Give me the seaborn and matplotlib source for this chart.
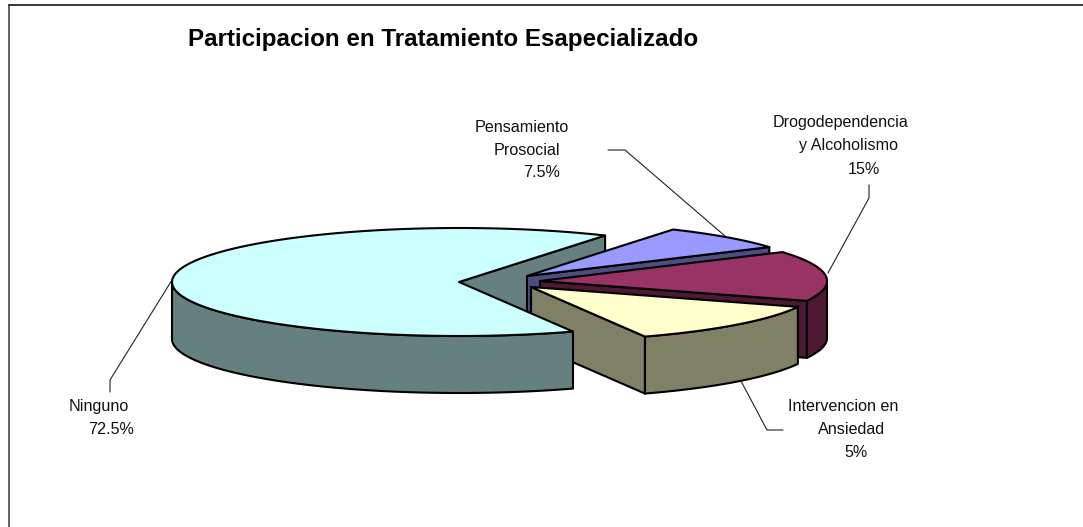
import numpy as np
import matplotlib
matplotlib.use("Agg")
import matplotlib.pyplot as plt
import seaborn as sns

# Data
categories = ["Pensamiento Prosocial", "Drogodependencia y Alcoholismo", "Intervencion en Ansiedad", "Ninguno"]
# slice shares as drawn (the printed labels say otherwise for two of them)
shares = [7.5, 15, 12.5, 65]
label_lines = [
    ["Pensamiento", "Prosocial", "7.5%"],
    ["Drogodependencia", "y Alcoholismo", "15%"],
    ["Intervencion en", "Ansiedad", "5%"],
    ["Ninguno", "72.5%"],
]
title = "Participacion en Tratamiento Esapecializado"

top_colors = ["#9999FF", "#993366", "#FFFFCC", "#CCFFFF"]
wall_colors = ["#4D4D80", "#4D1A33", "#808066", "#668080"]

# Layout in picture pixels
START_ANGLE = 59.4
RX, RY, DEPTH = 287, 54, 57
centers = [(527, 276), (540, 281), (531, 287), (459, 282)]
label_pos = [
    [(475, 132), (494, 155), (523, 177)],
    [(773, 127), (799, 150), (848, 174)],
    [(788, 411), (818, 434), (844, 457)],
    [(69, 411), (88, 434)],
]
leaders = [
    [(608, 150), (625, 150), (725, 236)],
    [(869, 185), (869, 198), (828, 273)],
    [(783, 430), (767, 430), (741, 381)],
    [(110, 392), (110, 380), (172, 280)],
]

EDGE = dict(edgecolor="black", linewidth=1.5, joinstyle="round")


def rim(center, t1, t2, n=60):
    t = np.radians(np.linspace(t1, t2, n))
    return center[0] + RX * np.cos(t), center[1] - RY * np.sin(t)


def draw_top(ax, center, t_low, t_high, color):
    x, y = rim(center, t_low, t_high, 120)
    ax.fill(np.r_[center[0], x], np.r_[center[1], y], facecolor=color, **EDGE)


def draw_radial_wall(ax, center, t, color):
    x, y = rim(center, t, t, 1)
    ax.fill([center[0], x[0], x[0], center[0]],
            [center[1], y[0], y[0] + DEPTH, center[1] + DEPTH], facecolor=color, **EDGE)


def draw_outer_wall(ax, center, t_low, t_high, color):
    # only the part of the rim facing the viewer (lower half of the ellipse)
    for k in (-360, 0):
        a, b = max(t_low + k, -180), min(t_high + k, 0)
        if b > a:
            x, y = rim(center, a, b)
            ax.fill(np.r_[x, x[::-1]], np.r_[y, y[::-1] + DEPTH], facecolor=color, **EDGE)


sns.set_theme(style="white")
plt.rcParams["font.family"] = ["Liberation Sans", "DejaVu Sans"]

fig = plt.figure(figsize=(10.83, 5.27), dpi=100)
ax = fig.add_axes([0, 0, 1, 1])
ax.set_xlim(0, 1083)
ax.set_ylim(527, 0)
ax.axis("off")

# chart frame, only left and top survive the crop
ax.plot([9, 9], [527, 5], color="#606060", lw=1.4)
ax.plot([9, 1083], [5, 5], color="#151515", lw=1.2)

# angles from the shares, going clockwise from the start angle
ends = START_ANGLE - np.cumsum(shares) * 3.6
starts = np.r_[START_ANGLE, ends[:-1]]

# Ninguno runs the long way round from the start angle to where the others stop
big_low, big_high = START_ANGLE, starts[3] + 360

# its cut face sits behind the other slices, the rest of it in front
draw_radial_wall(ax, centers[3], big_low, wall_colors[3])

for i in range(3):
    t_low, t_high = ends[i], starts[i]
    draw_radial_wall(ax, centers[i], t_low, wall_colors[i])
    draw_outer_wall(ax, centers[i], t_low, t_high, wall_colors[i])
    draw_top(ax, centers[i], t_low, t_high, top_colors[i])

draw_outer_wall(ax, centers[3], big_low, big_high, wall_colors[3])
draw_top(ax, centers[3], big_low, big_high, top_colors[3])

for pts in leaders:
    xs, ys = zip(*pts)
    ax.plot(xs, ys, color="#222222", lw=0.8)

for lines, spots in zip(label_lines, label_pos):
    for line, (x, y) in zip(lines, spots):
        ax.text(x, y, line, fontsize=11.6, color="#111111", ha="left", va="baseline")

ax.text(188, 46, title, fontsize=17.35, fontweight="bold", color="black", ha="left", va="baseline")

fig.savefig("out.png", dpi=100, facecolor="white")
